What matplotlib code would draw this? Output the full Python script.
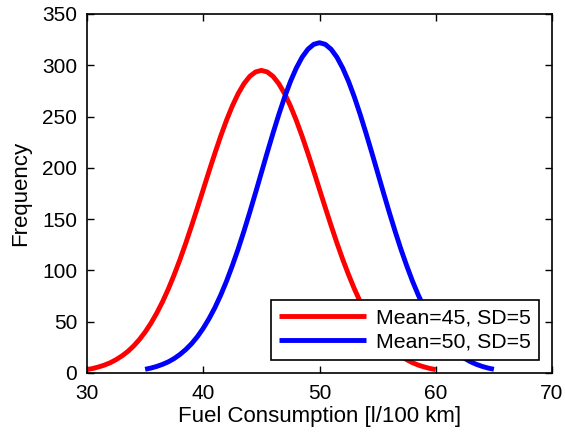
import matplotlib
matplotlib.use("Agg")
import matplotlib.pyplot as plt
import numpy as np

# fuel consumption (l/100 km) and frequency, every 0.5
x_red = np.arange(30, 60.01, 0.5)
y_red = [3.3, 4.4, 5.9, 7.7, 10.0, 13.0, 16.6, 20.9, 26.2, 32.5,
         39.9, 48.5, 58.4, 69.5, 82.0, 95.8, 110.7, 126.7, 143.6, 161.1,
         178.9, 196.8, 214.2, 230.9, 246.4, 260.3, 272.3, 282.0, 289.2, 293.5,
         295.0,
         293.5, 289.2, 282.0, 272.3, 260.3, 246.4, 230.9, 214.2, 196.8, 178.9,
         161.1, 143.6, 126.7, 110.7, 95.8, 82.0, 69.5, 58.4, 48.5, 39.9,
         32.5, 26.2, 20.9, 16.6, 13.0, 10.0, 7.7, 5.9, 4.4, 3.3]

x_blue = np.arange(35, 65.01, 0.5)
y_blue = [3.6, 4.8, 6.4, 8.4, 10.9, 14.1, 18.1, 22.9, 28.6, 35.5,
          43.6, 53.0, 63.7, 75.9, 89.5, 104.6, 120.8, 138.3, 156.7, 175.8,
          195.3, 214.8, 233.8, 252.0, 269.0, 284.2, 297.2, 307.8, 315.6, 320.4,
          322.0,
          320.4, 315.6, 307.8, 297.2, 284.2, 269.0, 252.0, 233.8, 214.8, 195.3,
          175.8, 156.7, 138.3, 120.8, 104.6, 89.5, 75.9, 63.7, 53.0, 43.6,
          35.5, 28.6, 22.9, 18.1, 14.1, 10.9, 8.4, 6.4, 4.8, 3.6]

labels = ["Mean=45, SD=5", "Mean=50, SD=5"]
xticks = [30, 40, 50, 60, 70]
yticks = [0, 50, 100, 150, 200, 250, 300, 350]

plt.rcParams['font.family'] = ['Liberation Sans', 'DejaVu Sans']

fig = plt.figure(figsize=(5.65, 4.37), dpi=100)
ax = fig.add_axes([0.154, 0.1465, 0.823, 0.8215])

ax.plot(x_red, y_red, color="#ff0000", lw=3.5, label=labels[0],
        solid_capstyle="butt", solid_joinstyle="round")
ax.plot(x_blue, y_blue, color="#0000ff", lw=3.5, label=labels[1],
        solid_capstyle="butt", solid_joinstyle="round")

ax.set_xlim(30, 70)
ax.set_ylim(0, 350)
ax.set_xticks(xticks)
ax.set_yticks(yticks)
ax.tick_params(direction="in", top=True, right=True, length=5,
               width=1, labelsize=15)
ax.tick_params(axis="x", pad=8)
ax.tick_params(axis="y", pad=7)
for s in ax.spines.values():
    s.set_linewidth(1.2)

ax.set_xlabel("Fuel Consumption [l/100 km]", fontsize=16, labelpad=2)
ax.set_ylabel("Frequency", fontsize=16, labelpad=8)

leg = ax.legend(loc="lower right", fontsize=15.3, fancybox=False,
                framealpha=1, edgecolor="black", borderaxespad=0.6,
                handlelength=4.1, handletextpad=0.45, borderpad=0.4,
                labelspacing=0.25)
leg.get_frame().set_linewidth(1.2)

fig.savefig("out.png", dpi=100)
